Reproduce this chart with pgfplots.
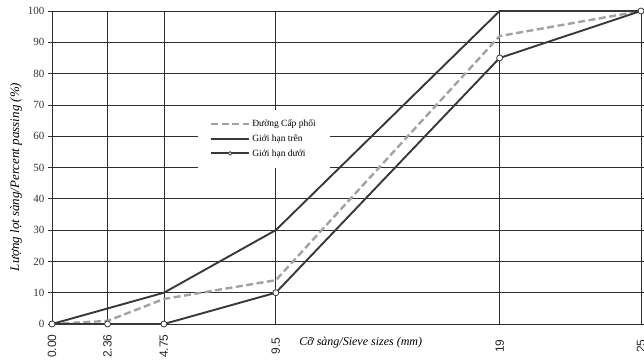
\documentclass[border=0pt]{standalone}
\usepackage{fontspec}
\setmainfont{Liberation Serif}
\setsansfont{Liberation Sans}
\usepackage{pgfplots}
\pgfplotsset{compat=1.18}
\definecolor{lineC}{HTML}{383838}
\definecolor{gridC}{HTML}{2E2E2E}
\definecolor{dashC}{HTML}{A2A2A2}
\begin{document}
\begin{tikzpicture}
\begin{axis}[
  name=ax,
  scale only axis,
  width=589pt, height=313pt,
  xmin=0, xmax=25, ymin=0, ymax=100,
  xtick={0,2.36,4.75,9.5,19,25},
  xticklabels={0.00,2.36,4.75,9.5,19,25},
  ytick={0,10,...,100},
  grid=major,
  major grid style={gridC, line width=0.8pt},
  axis line style={gridC, line width=0.9pt},
  major x tick style={draw=none},
  major y tick style={gridC, line width=0.8pt},
  ytick align=outside,
  major tick length=4pt,
  xticklabel style={font=\sffamily\fontsize{12}{12}\selectfont, anchor=center, yshift=-22pt, rotate=90, color=black!85},
  yticklabel style={font=\fontsize{11}{11}\selectfont, color=black!80},
  /pgf/number format/assume math mode=true,
  xlabel={\textit{Cỡ sàng/Sieve sizes (mm)}},
  xlabel style={at={(axis description cs:0.414,0)}, anchor=west, yshift=-19pt, font=\fontsize{12}{12}\selectfont},
  ylabel={\textit{Lượng lọt sàng/Percent passing (\%)}},
  ylabel style={at={(axis description cs:-0.061,0.47)}, anchor=center, font=\fontsize{13}{13}\selectfont},
  legend style={at={(axis description cs:0.2473,0.684)}, anchor=north west, draw=none, fill=white,
    font=\fontsize{9.5}{9.5}\selectfont, inner xsep=12pt, inner ysep=8pt, row sep=2.6pt},
  legend cell align=left,
  legend image code/.code={\draw[mark repeat=2, mark phase=2, #1, mark size=1.8pt] plot coordinates {(0pt,0.5pt) (19pt,0.5pt) (38pt,0.5pt)};},
  clip=false,
]
\addplot[dashC, line width=2.4pt, dash pattern=on 7pt off 3.5pt] coordinates {
  (0,0) (2.36,1) (4.75,8) (9.5,14) (19,92) (25,100)};
\addlegendentry{Đường Cấp phối}
\addplot[lineC, line width=1.9pt] coordinates {
  (0,0) (4.75,10) (9.5,30) (19,100) (25,100)};
\addlegendentry{Giới hạn trên}
\addplot[lineC, line width=1.9pt, mark=*, mark options={fill=white, draw=lineC, line width=0.8pt}, mark size=3pt] coordinates {
  (0,0) (2.36,0) (4.75,0) (9.5,10) (19,85) (25,100)};
\addlegendentry{Giới hạn dưới}
\end{axis}
\pgfresetboundingbox
\useasboundingbox ([shift={(-52pt,-35pt)}]ax.south west) rectangle ([shift={(3pt,11pt)}]ax.north east);
\end{tikzpicture}
\end{document}
